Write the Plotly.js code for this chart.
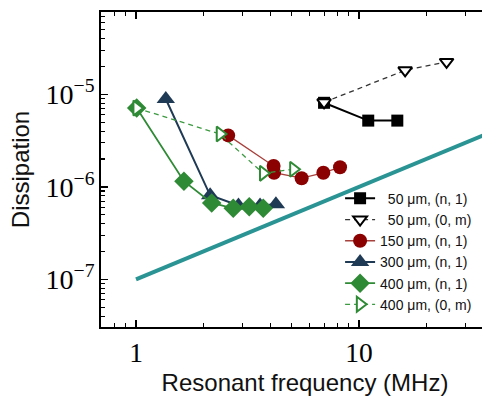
<!DOCTYPE html>
<html>
<head>
<meta charset="utf-8">
<script src="https://cdn.plot.ly/plotly-3.0.1.min.js"></script>
<style>
html, body { margin:0; padding:0; overflow:hidden; background:#fff; }
#chart { width:509px; height:396px; }
</style>
</head>
<body>
<div id="chart"></div>
<script>
// Theory line
const fTheory = [1, 50];
const dTheory = [1e-7, 5e-6];

// 50 um, (n, 1)
const f50n = [6.97, 11.0, 14.85];
const d50n = [8.1e-6, 5.2e-6, 5.2e-6];
// 50 um, (0, m)
const f50m = [6.97, 16.1, 24.7];
const d50m = [8.2e-6, 1.82e-5, 2.24e-5];
// 150 um, (n, 1)
const f150 = [2.59, 4.14, 4.16, 5.53, 6.92, 8.22];
const d150 = [3.6e-6, 1.68e-6, 1.42e-6, 1.24e-6, 1.42e-6, 1.63e-6];
// 300 um, (n, 1)
const f300 = [1.36, 2.15, 2.88, 3.6, 4.24];
const d300 = [8.9e-6, 8.1e-7, 6.3e-7, 6.3e-7, 6.5e-7];
// 400 um, (n, 1)
const f400n = [1.007, 1.64, 2.185, 2.73, 3.22, 3.72];
const d400n = [7.1e-6, 1.15e-6, 6.7e-7, 5.86e-7, 6.1e-7, 5.86e-7];
// 400 um, (0, m)
const f400m = [1.007, 2.38, 3.72, 5.08];
const d400m = [7.1e-6, 3.72e-6, 1.4e-6, 1.55e-6];

const names = ['\u200750 \u03bcm, (n, 1)', '\u200750 \u03bcm, (0, m)', '150 \u03bcm, (n, 1)',
               '300 \u03bcm, (n, 1)', '400 \u03bcm, (n, 1)', '400 \u03bcm, (0, m)'];

const traces = [
  {x: fTheory, y: dTheory, mode: 'lines', showlegend: false,
   line: {color: '#2a9393', width: 4}},
  {x: f50n, y: d50n, name: names[0], mode: 'lines+markers',
   line: {color: '#000', width: 2},
   marker: {symbol: 'square', size: 12, color: '#000'}},
  {x: f50m, y: d50m, name: names[1], mode: 'lines+markers',
   line: {color: '#333', width: 1.3, dash: '5px,4px'},
   marker: {symbol: 'triangle-down', size: 12, color: '#fff', line: {color: '#000', width: 2}}},
  {x: f150, y: d150, name: names[2], mode: 'lines+markers',
   line: {color: '#a8403c', width: 1.3},
   marker: {symbol: 'circle', size: 14, color: '#8b0000'}},
  {x: f300, y: d300, name: names[3], mode: 'lines+markers',
   line: {color: '#1f3a55', width: 2},
   marker: {symbol: 'triangle-up', size: 16, color: '#1f3a55'}},
  {x: f400n, y: d400n, name: names[4], mode: 'lines+markers',
   line: {color: '#2f8a35', width: 1.8},
   marker: {symbol: 'diamond', size: 15, color: '#2f8a35'}},
  {x: f400m, y: d400m, name: names[5], mode: 'lines+markers',
   line: {color: '#3a9a40', width: 1.3, dash: '5px,4px'},
   marker: {symbol: 'triangle-right', size: 13, color: '#fff', line: {color: '#2f8a35', width: 2}}}
];

const layout = {
  width: 509, height: 396,
  margin: {l: 101, r: 0, t: 12, b: 69},
  paper_bgcolor: '#fff', plot_bgcolor: '#fff',
  showlegend: true,
  legend: {x: 0.586, y: 0.458, xanchor: 'left', yanchor: 'top',
           bgcolor: 'rgba(0,0,0,0)', borderwidth: 0,
           font: {family: 'Liberation Sans, Arial, sans-serif', size: 14, color: '#111'}},
  xaxis: {
    type: 'log', range: [-0.157, 1.6726],
    showgrid: false, zeroline: false,
    showline: true, linecolor: '#000', linewidth: 2, mirror: 'ticks',
    ticks: 'inside', ticklen: 7, tickwidth: 1.5, tickcolor: '#000',
    dtick: 1, exponentformat: 'none',
    minor: {ticks: 'inside', ticklen: 4, tickwidth: 1.2, tickcolor: '#000', dtick: 'D1', showgrid: false},
    tickfont: {family: 'Liberation Serif, Times New Roman, serif', size: 27.5, color: '#000'},
    ticklabelstandoff: 0,
    title: {text: 'Resonant frequency (MHz)', standoff: 19,
            font: {family: 'Liberation Sans, Arial, sans-serif', size: 24, color: '#111'}}
  },
  yaxis: {
    type: 'log', range: [-7.515, -4.11],
    showgrid: false, zeroline: false,
    showline: true, linecolor: '#000', linewidth: 2, mirror: 'ticks',
    ticks: 'inside', ticklen: 7, tickwidth: 1.5, tickcolor: '#000',
    dtick: 1, exponentformat: 'power',
    minor: {ticks: 'inside', ticklen: 4, tickwidth: 1.2, tickcolor: '#000', dtick: 'D1', showgrid: false},
    tickfont: {family: 'Liberation Serif, Times New Roman, serif', size: 22.5, color: '#000'},
    ticklabelstandoff: 0,
    title: {text: 'Dissipation', standoff: 9,
            font: {family: 'Liberation Sans, Arial, sans-serif', size: 24, color: '#111'}}
  }
};

Plotly.newPlot('chart', traces, layout, {displayModeBar: false, staticPlot: true});
</script>
</body>
</html>
